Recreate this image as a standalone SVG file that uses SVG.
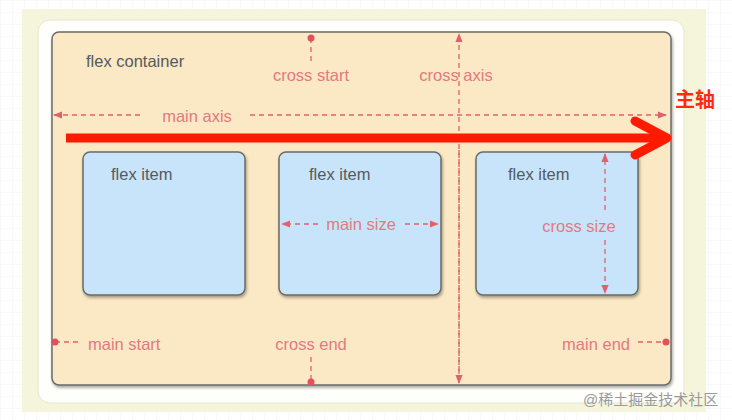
<svg xmlns="http://www.w3.org/2000/svg" width="732" height="420" viewBox="0 0 732 420">
<defs>
<style>
.lbl{font-family:"Liberation Sans",Arial,sans-serif;font-size:16.5px;fill:#e37a80}
.dark{font-family:"Liberation Sans",Arial,sans-serif;font-size:16.5px;fill:#555a60}
.dash{stroke:#e0606c;stroke-width:1.3;stroke-dasharray:5 4;fill:none}
.item{fill:#c8e4fa;stroke:#6a6a66;stroke-width:1.5}
</style>
<marker id="ah" viewBox="0 0 10 10" refX="9" refY="5" markerWidth="9" markerHeight="9" markerUnits="userSpaceOnUse" orient="auto">
<path d="M0,1 L10,5 L0,9 Z" fill="#e0606c"/>
</marker>
<filter id="sh" x="-10%" y="-10%" width="120%" height="120%">
<feDropShadow dx="1" dy="2" stdDeviation="1.5" flood-color="#000" flood-opacity="0.35"/>
</filter>
<pattern id="grid" width="12" height="12" patternUnits="userSpaceOnUse">
<path d="M12,0 L0,0 0,12" fill="none" stroke="#f2f2f2" stroke-width="1"/>
</pattern>
</defs>
<rect width="732" height="420" fill="#fff"/>
<rect width="732" height="420" fill="url(#grid)"/>
<rect x="22" y="9" width="684" height="403" fill="#f5f5dc"/>
<rect x="38" y="20" width="646" height="383" rx="12" fill="#fefefb" stroke="#e6e6d2" stroke-width="1"/>
<g id="container">
<rect x="52" y="32" width="619" height="353" rx="7" fill="#fbe8c5" stroke="#6a6a66" stroke-width="1.5" filter="url(#sh)"/>
<text class="dark" x="86" y="67">flex container</text>
</g>
<g id="item1">
<rect class="item" x="83" y="152" width="162" height="143" rx="7" filter="url(#sh)"/>
<text class="dark" x="111" y="180">flex item</text>
</g>
<g id="item2">
<rect class="item" x="279" y="152" width="162" height="143" rx="7" filter="url(#sh)"/>
<text class="dark" x="309" y="180">flex item</text>
</g>
<g id="item3">
<rect class="item" x="476" y="152" width="162" height="143" rx="7" filter="url(#sh)"/>
<text class="dark" x="508" y="180">flex item</text>
</g>
<g id="connectors">
<line class="dash" x1="140" y1="115" x2="54" y2="115" marker-end="url(#ah)"/>
<line class="dash" x1="250" y1="115" x2="666" y2="115" marker-end="url(#ah)"/>
<line class="dash" x1="459" y1="383" x2="459" y2="34" marker-end="url(#ah)"/>
<line class="dash" x1="459" y1="150" x2="459" y2="383" marker-end="url(#ah)"/>
<line class="dash" x1="311" y1="38" x2="311" y2="62"/>
<circle cx="311" cy="38" r="3.5" fill="#e0505e"/>
<line class="dash" x1="311" y1="357" x2="311" y2="382"/>
<circle cx="311" cy="382" r="3.5" fill="#e0505e"/>
<line class="dash" x1="55" y1="342" x2="82" y2="342"/>
<circle cx="55" cy="342" r="3.5" fill="#e0505e"/>
<line class="dash" x1="638" y1="342" x2="666" y2="342"/>
<circle cx="666" cy="342" r="3.5" fill="#e0505e"/>
<line class="dash" x1="318" y1="224" x2="282" y2="224" marker-end="url(#ah)"/>
<line class="dash" x1="405" y1="224" x2="438" y2="224" marker-end="url(#ah)"/>
<line class="dash" x1="605" y1="210" x2="605" y2="154" marker-end="url(#ah)"/>
<line class="dash" x1="605" y1="240" x2="605" y2="293" marker-end="url(#ah)"/>
<line x1="66" y1="138" x2="658" y2="138" stroke="#ff1a00" stroke-width="9"/>
<polyline points="635,121 667,138 635,155" fill="none" stroke="#ff1a00" stroke-width="9" stroke-linecap="round" stroke-linejoin="round"/>
</g>
<g id="labels">
<text class="lbl" x="311" y="81" text-anchor="middle">cross start</text>
<text class="lbl" x="456" y="81" text-anchor="middle">cross axis</text>
<rect x="150" y="105" width="94" height="20" fill="#fbe8c5"/>
<text class="lbl" x="197" y="122" text-anchor="middle">main axis</text>
<text class="lbl" x="361" y="230" text-anchor="middle">main size</text>
<text class="lbl" x="579" y="232" text-anchor="middle">cross size</text>
<text class="lbl" x="88" y="350">main start</text>
<text class="lbl" x="311" y="350" text-anchor="middle">cross end</text>
<text class="lbl" x="630" y="350" text-anchor="end">main end</text>
<text x="675" y="107" font-family="'Noto Sans CJK SC',sans-serif" font-size="20" font-weight="bold" fill="#ff2a10">主轴</text>
<text x="583" y="405" font-family="'Liberation Sans','Noto Sans CJK SC',sans-serif" font-size="15" fill="#9a9a9a">@稀土掘金技术社区</text>
</g>
</svg>
